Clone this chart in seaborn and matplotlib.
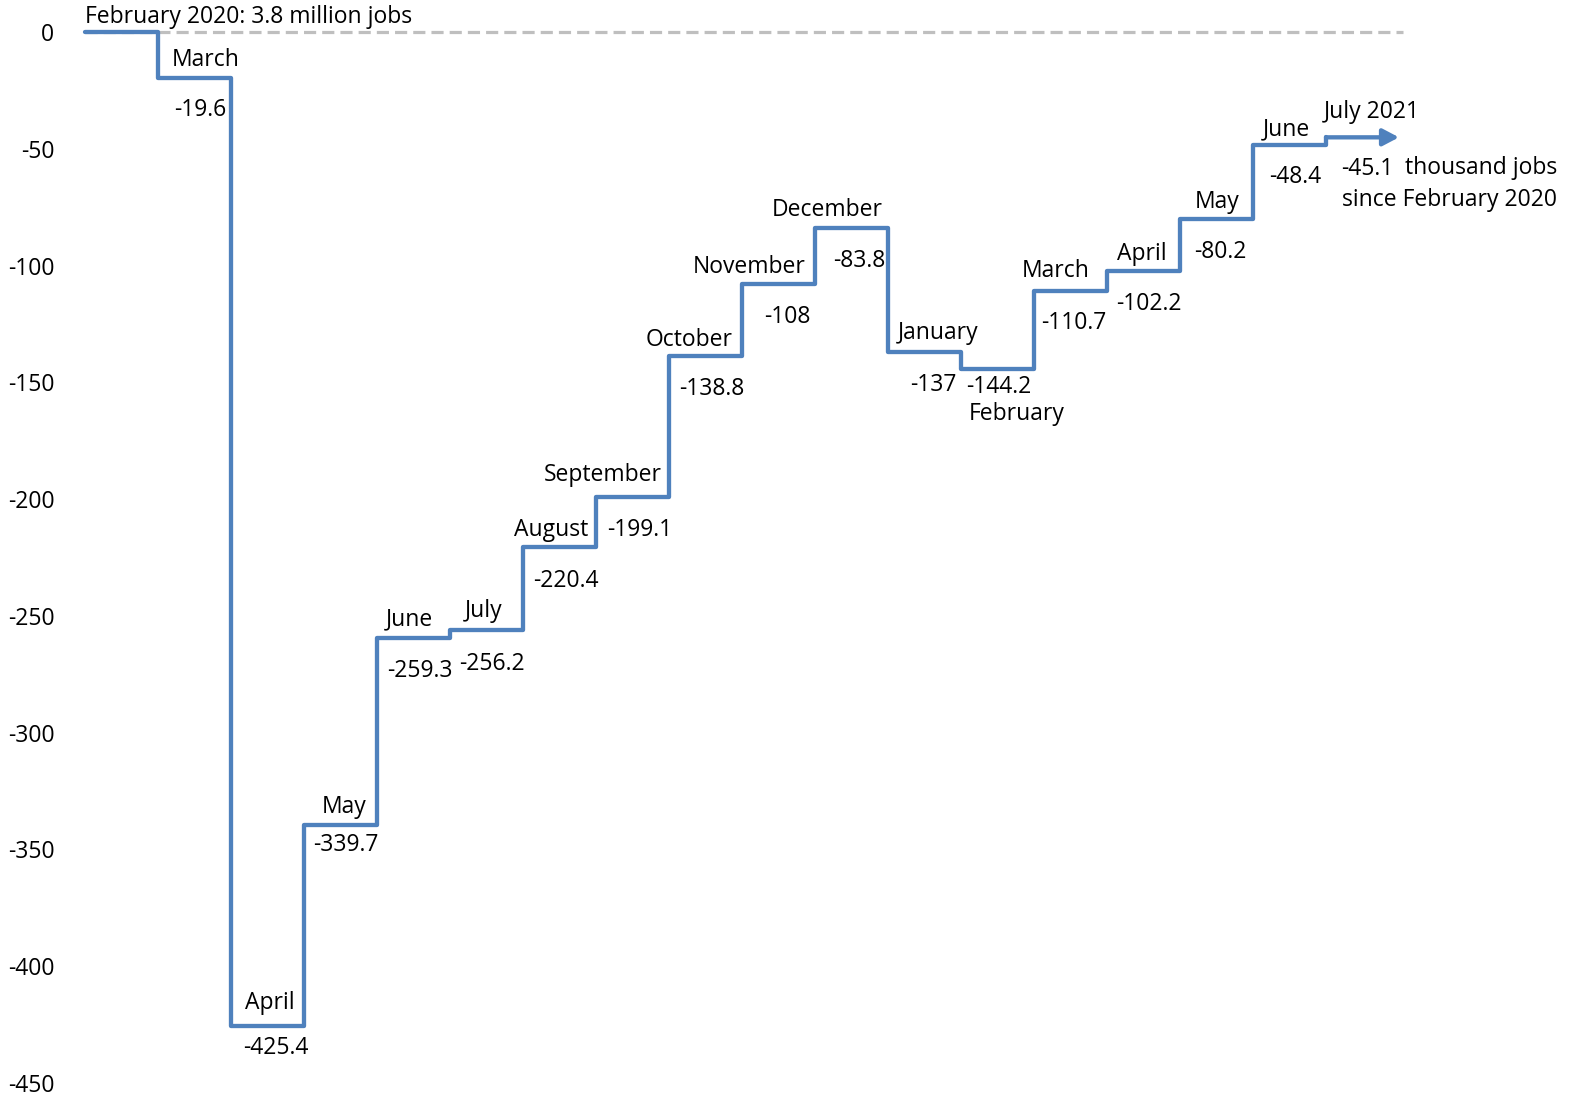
import matplotlib
matplotlib.use("Agg")
import matplotlib.pyplot as plt
import seaborn as sns
import numpy as np
import pandas as pd

sns.set_theme(style="white")
plt.rcParams['font.family'] = ['Open Sans', 'DejaVu Sans']

months = ["February 2020", "March", "April", "May", "June", "July", "August",
          "September", "October", "November", "December", "January", "February",
          "March", "April", "May", "June", "July 2021"]
values = [0, -19.6, -425.4, -339.7, -259.3, -256.2, -220.4, -199.1, -138.8,
          -108, -83.8, -137, -144.2, -110.7, -102.2, -80.2, -48.4, -45.1]
value_labels = ["", "-19.6", "-425.4", "-339.7", "-259.3", "-256.2", "-220.4",
                "-199.1", "-138.8", "-108", "-83.8", "-137", "-144.2", "-110.7",
                "-102.2", "-80.2", "-48.4", "-45.1"]
yticks = [0, -50, -100, -150, -200, -250, -300, -350, -400, -450]
title_text = "February 2020: 3.8 million jobs"
note_lines = ["thousand jobs", "since February 2020"]

# label offsets in pixels (dx, dy downwards) relative to segment centre / level
month_off = [None, (11.5, -18), (2.5, -23), (3.5, -18.5), (-4.5, -18), (-2.5, -19.5),
             (-8.5, -17), (-29.5, -22), (-16.5, -16), (-29.5, -17), (-24.5, -18),
             (13.5, -19), (19.5, 45), (-14.5, -20), (-1.5, -17), (0.5, -17),
             (-3.5, -16), (9.5, -25)]
value_off = [None, (5.5, 32), (8.5, 22), (5.5, 19.5), (6.5, 33), (5.5, 33.5),
             (6.5, 34), (7.5, 33), (6.5, 33), (8.5, 33), (7.5, 33), (8.5, 33),
             (1.5, 18), (3.5, 32), (5.5, 33), (3.5, 33), (5.5, 32), (4.5, 32)]

W, H = 1587, 1108
fig = plt.figure(figsize=(W / 100, H / 100), dpi=100)
ax = fig.add_axes([85 / W, 25 / H, 1314 / W, 1051 / H])

blue = "#4F81BD"
lw = 3.1
df = pd.DataFrame({"x": np.arange(len(values)), "y": values})

ax.plot([0, 18.05], [0, 0], color="#BFBFBF", lw=2.3, ls=(0, (3.8, 1.9)),
        zorder=1, clip_on=False)
sns.lineplot(data=df, x="x", y="y", drawstyle="steps-post", color=blue, lw=lw,
             ax=ax, zorder=3, sort=False, clip_on=False)
ax.annotate("", xy=(18, values[-1]), xytext=(17, values[-1]),
            arrowprops=dict(arrowstyle="-|>,head_length=0.8,head_width=0.42",
                            color=blue, lw=lw, shrinkA=0, shrinkB=0), zorder=3)

fs = 16.5
ax.text(0, 6.4, title_text, ha="left", va="center", fontsize=fs, color="black")
for i in range(1, len(values)):
    dx, dy = month_off[i]
    ax.annotate(months[i], xy=(i + 0.5, values[i]), xytext=(dx, -dy),
                textcoords="offset pixels", ha="center", va="center",
                fontsize=fs, color="black", annotation_clip=False)
    dx, dy = value_off[i]
    ax.annotate(value_labels[i], xy=(i + 0.5, values[i]), xytext=(dx, -dy),
                textcoords="offset pixels", ha="center", va="center",
                fontsize=fs, color="black", annotation_clip=False)

for k, line in enumerate(note_lines):
    ax.annotate(line, xy=(18, values[-1]), xytext=(1557 - 1399, -31 - 32 * k),
                textcoords="offset pixels", ha="right", va="center",
                fontsize=fs, color="black", annotation_clip=False)

ax.set_xlim(0, 18)
ax.set_ylim(-450, 0)
ax.set_yticks(yticks)
ax.set_yticklabels([str(t) for t in yticks], fontsize=fs, color="black")
ax.tick_params(axis="y", length=0, pad=22)
ax.set_xticks([])
ax.set_xlabel("")
ax.set_ylabel("")
for s in ax.spines.values():
    s.set_visible(False)
ax.patch.set_alpha(0)

fig.savefig("out.png", dpi=100)
